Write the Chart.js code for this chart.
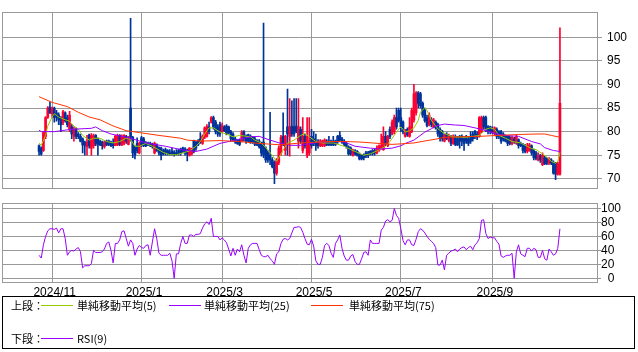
<!DOCTYPE html>
<html>
<head>
<meta charset="utf-8">
<script src="https://cdn.jsdelivr.net/npm/chart.js@4.4.1/dist/chart.umd.min.js"></script>
<style>
  body { margin: 0; width: 638px; height: 352px; background: #fff; position: relative; overflow: hidden; }
  #priceChart { position: absolute; left: 0; top: 0; }
  #rsiChart { position: absolute; left: 0; top: 196px; }
  #legend { position: absolute; left: 2px; top: 296px; width: 633px; height: 53px; box-sizing: border-box;
            border: 1px solid #000; font: 11px "Noto Sans CJK JP", sans-serif; color: #000; }
  #legend span { position: absolute; line-height: 14px; white-space: nowrap; }
  #legend .sw { position: absolute; display: block; height: 0; width: 32px; border-top: 1px solid; }
</style>
</head>
<body>
<canvas id="priceChart" width="638" height="200"></canvas>
<canvas id="rsiChart" width="638" height="102"></canvas>
<div id="legend">
  <span style="left:8px; top:1px">上段：</span>
  <div class="sw" style="left:38px; top:8px; border-color:#99cc00"></div>
  <span style="left:74px; top:1px">単純移動平均(5)</span>
  <div class="sw" style="left:166px; top:8px; border-color:#9900ff"></div>
  <span style="left:201px; top:1px">単純移動平均(25)</span>
  <div class="sw" style="left:308px; top:8px; border-color:#ff3300"></div>
  <span style="left:346px; top:1px">単純移動平均(75)</span>
  <span style="left:8px; top:34px">下段：</span>
  <div class="sw" style="left:38px; top:41px; border-color:#9900ff"></div>
  <span style="left:74px; top:34px">RSI(9)</span>
</div>
<script>
// daily candles, 2024/10/24 .. 2025/10/17 (index = trading day)
const opens = [
  77.0,76.5,76.0,79.0,83.0,85.2,83.8,85.0,84.0,83.5, 83.0,82.0,84.0,83.0,80.5,81.0,79.0,80.5,79.5,79.0,
  78.5,77.8,76.8,79.3,76.5,77.0,79.2,78.5,78.0,77.8, 76.8,78.0,78.0,77.8,77.5,77.0,77.2,79.2,77.2,77.5,
  79.0,77.3,85.0,78.8,76.8,77.5,75.5,78.7,78.5,77.6, 77.6,77.5,77.3,75.5,77.2,76.6,76.5,76.0,76.2,76.0,
  75.5,75.8,75.6,75.5,76.0,76.3,76.5,76.3,76.0,75.0, 75.2,78.0,77.8,78.0,78.5,77.5,78.8,79.0,81.0,82.0,
  83.0,82.0,81.0,81.5,80.0,81.0,81.2,81.0,80.0,79.5, 78.5,78.0,78.2,78.0,80.0,79.0,79.3,79.0,78.8,78.5,
  78.0,78.0,77.5,77.8,76.5,75.5,75.0,74.0,73.5,71.2, 73.5,75.5,79.0,76.0,81.0,79.0,81.2,81.0,81.2,78.0,
  80.5,76.0,79.0,75.0,75.5,79.0,78.5,78.0,78.0,77.0, 77.0,77.0,78.0,78.0,78.0,78.0,78.0,79.0,79.2,78.5,
  78.0,77.5,76.8,76.5,75.0,76.0,75.8,75.2,75.0,75.0, 75.5,75.5,75.8,76.0,76.0,75.5,76.0,76.5,76.2,79.0,
  77.0,80.5,79.5,80.0,83.0,84.5,83.0,82.0,79.0,80.5, 79.0,80.0,82.5,84.0,88.2,88.0,86.0,84.5,83.0,81.5,
  82.5,81.0,82.0,81.5,80.5,80.0,78.0,79.5,78.2,79.0, 77.5,79.0,78.5,79.0,79.0,78.5,79.0,78.5,79.0,79.5,
  80.0,79.5,79.0,80.0,83.0,83.0,81.0,81.0,80.5,79.5, 80.5,80.0,80.0,79.5,79.0,79.0,78.8,77.5,78.5,77.5,
  78.3,77.5,77.2,77.0,75.8,76.0,77.0,76.0,75.5,74.0, 75.0,73.0,74.5,74.2,73.3,74.0,73.5,73.3,71.0,71.0
];
const highs = [
  77.2,76.8,80.0,83.2,85.3,86.3,85.2,85.2,84.5,84.0, 83.2,84.5,84.2,83.5,84.3,81.5,81.0,80.8,79.8,79.5,
  78.7,78.0,79.2,79.5,79.6,79.5,79.4,78.7,78.2,78.0, 78.0,78.2,78.2,78.0,78.5,79.2,79.5,79.4,79.3,79.4,
  79.2,79.0,104.0,79.0,77.0,78.7,77.8,79.0,78.8,77.9, 77.8,77.8,77.6,77.8,77.4,76.8,76.7,76.3,76.5,76.2,
  76.2,76.5,76.0,76.2,76.3,76.5,76.7,76.6,76.3,76.6, 76.5,78.2,78.0,78.3,79.8,79.3,81.0,81.5,82.0,83.2,
  83.3,82.4,81.5,82.0,81.8,81.3,81.5,81.2,80.3,79.8, 78.8,78.3,78.4,80.2,80.2,79.3,79.5,79.3,79.0,78.8,
  78.3,78.3,77.8,103.0,76.8,76.0,84.1,74.5,73.8,74.3, 77.0,79.2,84.0,79.2,89.0,87.0,86.5,87.0,87.0,87.0,
  81.0,83.0,79.5,83.0,83.0,80.5,80.0,79.5,78.3,78.3, 78.2,78.5,78.3,79.0,78.2,79.0,78.2,79.2,80.0,78.8,
  78.3,77.8,77.0,76.8,76.3,76.2,76.0,75.5,75.2,75.3, 75.8,75.8,76.0,76.2,76.3,77.0,77.2,79.5,81.0,80.0,
  79.2,81.0,82.5,83.5,85.0,85.0,85.0,82.3,80.5,80.8, 83.0,85.0,90.0,88.5,88.5,88.3,86.3,85.0,83.5,84.0,
  83.0,82.8,82.3,81.8,80.8,80.3,79.5,79.8,79.5,79.2, 79.3,79.3,79.0,79.2,79.3,79.0,79.2,79.0,80.0,80.0,
  80.3,80.0,83.2,83.3,83.3,83.3,81.3,81.2,81.0,81.0, 80.8,80.2,80.3,79.8,79.3,79.2,79.0,79.0,78.8,79.2,
  78.5,77.8,77.5,77.3,77.5,77.5,77.2,76.3,75.8,75.5, 75.2,75.5,74.8,74.5,74.5,74.3,73.8,73.5,73.5,102.0
];
const lows = [
  75.0,75.0,75.8,78.5,82.8,83.8,83.0,82.0,82.2,81.5, 80.0,81.5,82.0,81.0,80.0,78.5,78.0,78.5,78.5,77.8,
  75.5,75.0,75.0,76.5,75.0,76.5,77.0,75.0,77.0,76.3, 76.5,77.0,77.0,76.8,76.5,77.0,77.0,77.0,77.0,77.2,
  77.5,77.2,78.0,74.5,74.2,75.5,75.3,76.8,76.8,76.8, 77.0,76.8,76.5,75.3,75.8,75.0,74.0,75.0,75.0,75.0,
  75.0,75.0,74.8,75.0,75.0,75.0,75.5,75.0,73.8,74.8, 75.0,75.5,76.0,77.0,77.5,77.3,78.5,78.8,79.5,81.8,
  80.5,79.5,79.0,79.0,79.8,80.0,79.3,79.5,78.0,78.0, 77.5,77.3,77.0,77.8,78.0,77.5,77.8,77.5,77.5,77.0,
  77.0,76.5,74.8,74.5,73.5,73.5,73.0,72.3,69.0,70.8, 73.0,75.0,77.0,75.0,75.0,74.8,79.0,79.0,79.8,76.5,
  77.5,75.5,76.5,74.5,75.0,76.5,77.0,76.0,76.5,76.8, 76.8,76.8,77.0,77.0,77.0,77.0,77.0,77.5,78.0,77.5,
  77.0,76.5,75.0,75.0,74.8,75.0,74.8,74.0,74.0,74.0, 74.5,74.5,75.0,75.0,75.0,75.3,75.8,76.3,76.0,77.0,
  76.8,78.5,79.3,79.5,80.5,82.0,80.0,79.5,78.8,79.0, 78.8,79.8,82.0,83.5,85.0,85.0,83.0,82.0,81.0,81.2,
  81.0,80.8,80.5,79.0,78.0,78.0,77.8,78.3,77.8,77.0, 77.3,77.0,77.0,76.5,77.0,76.0,77.5,77.0,77.5,78.0,
  78.5,78.3,78.8,79.8,80.5,80.0,79.5,79.5,79.5,79.2, 78.5,78.5,77.5,78.0,77.8,77.0,77.2,77.2,77.5,77.3,
  76.5,76.8,75.5,75.5,75.5,75.8,75.0,74.0,74.0,73.8, 73.5,72.8,73.0,73.0,73.0,73.0,71.0,69.8,70.8,70.8
];
const closes = [
  75.8,75.2,79.8,83.0,85.0,84.0,85.0,83.0,83.0,82.5, 81.5,84.2,82.3,81.5,83.5,79.5,80.5,79.0,79.0,78.0,
  77.2,77.0,77.8,77.0,79.2,79.0,77.5,77.3,77.2,77.0, 77.8,77.2,77.3,77.0,77.0,79.0,79.2,77.3,79.0,79.2,
  78.0,78.8,78.8,75.5,75.0,76.0,77.5,77.0,77.0,77.0, 77.2,77.0,76.8,77.5,76.0,75.5,75.0,75.2,75.5,75.3,
  75.2,75.2,75.1,75.2,75.3,75.5,75.8,75.5,75.2,76.5, 76.3,75.8,76.5,77.2,77.8,79.0,80.8,81.0,80.0,83.0,
  81.0,80.0,79.5,79.5,81.2,80.2,79.5,79.8,78.5,78.3, 77.8,77.5,77.3,79.8,78.5,78.0,78.0,77.8,77.8,77.3,
  77.2,76.8,75.5,75.0,74.0,74.0,74.0,72.6,71.2,74.0, 76.5,78.8,77.5,79.0,79.5,81.0,79.5,79.5,80.0,81.0,
  78.0,79.0,77.0,79.0,78.0,77.0,77.5,77.0,77.0,78.0, 78.0,78.2,77.2,77.2,77.2,77.2,77.3,78.0,78.3,77.8,
  77.3,76.8,75.3,75.2,76.0,75.2,75.0,74.2,74.2,74.5, 74.8,75.0,75.2,75.3,75.5,76.5,77.0,77.0,79.0,77.5,
  79.0,79.0,82.0,83.0,81.0,82.4,81.0,80.0,80.0,79.3, 81.0,84.5,88.0,88.2,86.0,85.5,83.5,82.3,81.3,83.5,
  81.5,82.5,80.8,79.5,78.5,78.5,79.2,78.5,79.0,77.5, 79.0,77.3,77.2,78.0,78.0,77.5,78.0,77.5,78.0,78.5,
  79.0,78.8,83.0,83.0,81.0,80.5,80.0,80.0,79.8,80.8, 79.0,79.0,78.0,78.3,78.0,77.5,77.5,78.8,77.8,79.0,
  77.0,77.0,76.0,75.8,77.0,77.2,75.5,74.5,74.3,75.0, 74.0,75.0,73.2,73.3,74.2,73.3,71.2,71.0,73.2,86.0
];

// moving averages, read as [day index, value]
const ma5 = [
  [0,77.6],[1,77.1],[3,79.2],[4,81.2],[6,83.1],[7,83.8],[9,83.1],[12,82.5],[14,82.2],[16,81.2],
  [18,80.5],[20,79.2],[23,78.2],[25,78.6],[28,78.6],[31,77.9],[34,77.6],[37,77.9],[40,78.6],[42,78.3],
  [44,76.9],[46,76.9],[49,77.5],[52,76.9],[57,75.6],[60,75.1],[63,75.1],[66,75.5],[69,75.9],[72,76.9],
  [74,77.9],[76,79.5],[78,80.8],[80,80.8],[83,79.9],[86,79.5],[89,78.9],[92,79.2],[97,78.9],[99,78.2],
  [102,77.6],[104,76.6],[107,75.0],[109,73.7],[111,75.3],[114,77.6],[117,78.2],[120,79.2],[122,79.6],[124,78.9],
  [127,77.9],[130,77.6],[135,77.6],[140,76.9],[144,76.0],[149,75.0],[152,75.3],[155,75.9],[159,76.9],[161,77.9],
  [164,79.9],[166,81.0],[168,79.9],[170,80.2],[172,80.8],[174,82.4],[175,84.1],[177,85.1],[178,84.5],[180,82.4],
  [182,81.2],[183,80.6],[185,79.9],[188,79.2],[190,78.9],[196,78.8],[202,79.2],[205,80.5],[207,80.8],[209,80.5],
  [211,79.2],[214,78.6],[217,77.9],[221,77.6],[224,76.9],[226,76.4],[228,76.2],[231,75.3],[233,74.6],[235,73.7],
  [237,73.3],[238,73.7],[239,75.6]
];
const ma25 = [
  [0,80.3],[1,80.0],[7,80.0],[15,80.5],[24,80.7],[26,81.0],[29,80.2],[33,79.5],[38,79.0],[42,78.6],
  [49,77.6],[58,76.9],[66,76.1],[72,75.8],[77,76.3],[83,77.5],[88,78.0],[92,78.4],[97,78.9],[101,79.0],
  [106,78.2],[111,77.5],[115,77.1],[120,77.1],[122,77.3],[129,77.8],[137,77.9],[140,77.8],[145,76.9],[152,76.5],
  [157,76.3],[162,76.5],[166,77.0],[168,77.5],[172,78.2],[177,79.9],[180,80.6],[182,81.2],[186,81.6],[191,81.4],
  [195,81.3],[200,80.8],[206,80.1],[209,79.6],[214,79.2],[220,79.0],[226,77.9],[230,77.4],[232,76.6],[236,76.0],
  [239,75.8]
];
const ma75 = [
  [0,87.4],[6,86.2],[13,85.3],[18,84.1],[23,83.1],[28,82.5],[34,81.2],[40,80.2],[46,79.8],[55,79.2],
  [65,78.6],[68,78.2],[74,78.0],[83,78.1],[92,77.9],[101,77.5],[111,77.2],[120,77.6],[133,77.9],[140,77.9],
  [147,77.8],[153,77.6],[162,77.3],[166,77.4],[172,77.6],[178,78.1],[182,78.4],[186,78.8],[193,78.9],[202,79.0],
  [211,79.2],[220,79.4],[229,79.5],[232,79.5],[235,79.2],[239,78.8]
];

// RSI(9), one value per day
const rsi = [
  33,29,48,60,68,71,71,70,72,65, 71,71,57,33,38,40,39,42,44,38,
  15,18,18,18,21,40,37,37,37,38, 42,50,52,40,22,50,50,55,67,68,
  57,46,55,50,33,42,47,44,43,47, 48,33,52,71,57,36,33,33,33,33,
  36,25,0,35,35,50,60,50,50,62, 62,60,63,63,64,72,78,81,77,86,
  60,60,60,55,58,55,51,42,32,43, 33,42,38,48,33,22,43,48,50,50,
  50,41,33,31,31,33,28,25,20,35, 38,50,56,57,55,57,65,73,73,74,
  73,66,57,49,48,56,46,25,20,20, 30,47,50,47,36,30,50,55,62,43,
  32,26,26,32,34,24,20,20,28,37, 38,33,55,50,50,50,50,69,73,82,
  84,81,83,100,90,86,71,54,48,55, 55,48,47,56,67,71,69,65,60,56,
  53,50,44,19,19,26,12,33,36,39, 40,42,38,42,44,45,41,44,46,41,
  48,51,57,83,84,64,57,59,58,58, 53,49,32,30,32,33,33,36,0,38,
  48,35,33,31,43,43,39,43,41,30, 30,40,28,26,42,38,33,35,43,71
];

const monthIdx    = [6, 47, 84, 125, 166, 208];
const monthLabels = ["2024/11", "2025/1", "2025/3", "2025/5", "2025/7", "2025/9"];
const priceTicks  = [70, 75, 80, 85, 90, 95, 100];
const rsiTicks    = [0, 20, 40, 60, 80, 100];

const UP = "#ff0033", DOWN = "#003399", GRID = "#999999";
const X_MIN = -17, X_MAX = 256;

Chart.defaults.font.family = "'Liberation Sans', Arial, sans-serif";
Chart.defaults.font.size = 12;
Chart.defaults.color = "#000";

// grey box round the plot area
const frame = {
  id: "frame",
  beforeDatasetsDraw(chart) {
    const { ctx, chartArea: a } = chart;
    ctx.save();
    ctx.strokeStyle = GRID;
    ctx.lineWidth = 1;
    ctx.strokeRect(Math.round(a.left) + 0.5, Math.round(a.top) + 0.5,
                   Math.round(a.right - a.left), Math.round(a.bottom - a.top));
    ctx.restore();
  }
};

const candleColor = c => closes[c.dataIndex] >= opens[c.dataIndex] ? UP : DOWN;
const pts = arr => arr.map(p => ({ x: p[0], y: p[1] }));
const maLine = (data, color) => ({
  type: "line", data: pts(data), borderColor: color, borderWidth: 1,
  pointRadius: 0, tension: 0, order: 1
});

new Chart(document.getElementById("priceChart"), {
  type: "bar",
  data: {
    datasets: [
      maLine(ma75, "#ff3300"),
      maLine(ma25, "#9900ff"),
      maLine(ma5, "#99cc00"),
      { data: opens.map((o, i) => ({ x: i, y: [o, closes[i]] })), backgroundColor: candleColor,
        barThickness: 2, minBarLength: 1, grouped: false, order: 2 },
      { data: lows.map((l, i) => ({ x: i, y: [l, highs[i]] })), backgroundColor: candleColor,
        barThickness: 1, grouped: false, order: 3 }
    ]
  },
  options: {
    responsive: false, animation: false, events: [],
    layout: { padding: { left: 2, top: 2, right: 0, bottom: 0 } },
    plugins: { legend: { display: false }, tooltip: { enabled: false } },
    scales: {
      x: {
        type: "linear", min: X_MIN, max: X_MAX, offset: false,
        grid: { color: GRID, offset: false, drawTicks: false }, border: { display: false },
        ticks: { display: false },
        afterBuildTicks: s => { s.ticks = monthIdx.map(v => ({ value: v })); },
        afterFit: s => { s.height = 8; }
      },
      y: {
        position: "right", min: 68.1, max: 105.3,
        grid: { color: GRID, tickLength: 5 }, border: { display: false },
        ticks: { padding: 5, autoSkip: false },
        afterBuildTicks: s => { s.ticks = priceTicks.map(v => ({ value: v })); },
        afterFit: s => { s.width = 41; }
      }
    }
  },
  plugins: [frame]
});

new Chart(document.getElementById("rsiChart"), {
  type: "line",
  data: {
    datasets: [{
      data: rsi.map((v, i) => ({ x: i, y: v })), borderColor: "#9900ff", borderWidth: 1,
      pointRadius: 0, tension: 0
    }]
  },
  options: {
    responsive: false, animation: false, events: [],
    layout: { padding: { left: 2, top: 7, right: 0, bottom: 0 } },
    plugins: { legend: { display: false }, tooltip: { enabled: false } },
    scales: {
      x: {
        type: "linear", min: X_MIN, max: X_MAX,
        grid: { color: GRID, drawTicks: false }, border: { display: false },
        ticks: { padding: 3, labelOffset: 2.5, maxRotation: 0, autoSkip: false,
                 callback: v => monthLabels[monthIdx.indexOf(v)] },
        afterBuildTicks: s => { s.ticks = monthIdx.map(v => ({ value: v })); },
        afterFit: s => { s.height = 16; }
      },
      y: {
        position: "right", min: -5.3, max: 107.6,
        grid: { color: GRID, tickLength: 4 }, border: { display: false },
        ticks: { padding: 0, autoSkip: false, callback: v => String(v).padStart(2, "\u2007") },
        afterBuildTicks: s => { s.ticks = rsiTicks.map(v => ({ value: v })); },
        afterFit: s => { s.width = 41; }
      }
    }
  },
  plugins: [frame]
});
</script>
</body>
</html>
